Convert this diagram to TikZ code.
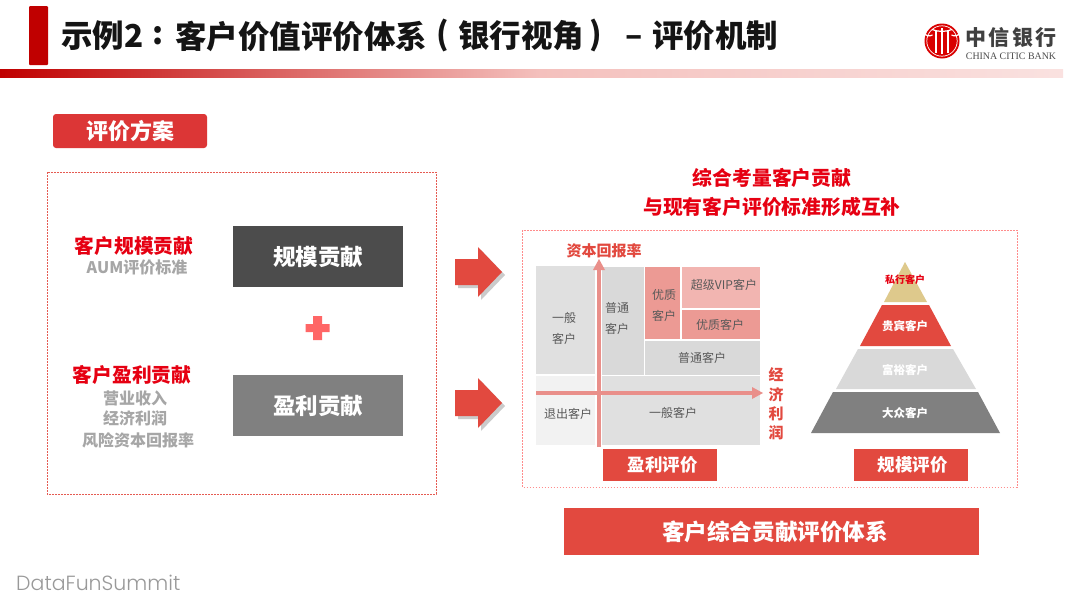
\documentclass[tikz,border=0pt]{standalone}
\usepackage{fontspec}
\setmainfont{Noto Sans CJK SC}
\newfontfamily\serifen{Liberation Serif}
\newfontfamily\wmfont{Poppins Light}
\usetikzlibrary{shadows}
\definecolor{citicred}{HTML}{C00000}
\definecolor{mainred}{HTML}{E2493F}
\definecolor{tagred}{HTML}{DC3636}
\definecolor{pure}{HTML}{E60012}
\definecolor{rosea}{HTML}{EC9A94}
\definecolor{roseb}{HTML}{F2B5B1}
\definecolor{axisred}{HTML}{E98F8A}
\definecolor{tan}{HTML}{DEC98C}
\tikzset{
  txt/.style={inner sep=0pt, font=\fontsize{#1}{#1}\selectfont},
  bold/.style={inner sep=0pt, font=\fontsize{#1}{#1}\selectfont\bfseries},
  head/.style={bold=31.5, text=black!92},
  lines/.style={inner sep=0pt, align=center, text=black!65, font=\fontsize{12}{21}\selectfont},
  cell/.style={inner sep=0pt, text=black!65, font=\fontsize{12}{12}\selectfont},
  redhead/.style={bold=#1, text=pure},
  grayline/.style={bold=16, text=black!35},
  band/.style={fill=mainred, draw=none},
  dashbox/.style={line width=0.7pt, dash pattern=on 1.6pt off 1.4pt},
  axisline/.style={line width=3.6pt, draw=axisred},
  bigarrow/.style={fill=mainred, drop shadow={shadow xshift=3pt, shadow yshift=-3pt, fill=black!40, opacity=0.5}},
}
\begin{document}
\begin{tikzpicture}[x=1pt,y=-1pt]
\useasboundingbox[fill=white] (0,0) rectangle (1080,608);
% header
\fill[citicred,rounded corners=1pt] (29,6) rectangle (48,65);
\shade[left color=citicred,right color=roseb!85!white,draw=none] (0,69) rectangle (540,77);
\shade[left color=roseb!85!white,right color=roseb!40!white,draw=none] (540,69) rectangle (1063,77);
\node[head, anchor=west] (titlea) at (61,36) {示例2};
\node[head] (titleb) at (158,36) {:};
\node[head, anchor=west] (titlec) at (175,36) {客户价值评价体系};
\node[head] (titled) at (443,35) {(};
\node[head, anchor=west] (titlee) at (458,36) {银行视角};
\node[head] (titlef) at (596,35) {)};
\node[head] (titleg) at (634,41) {–};
\node[head, anchor=west] (titleh) at (652,36) {评价机制};
% logo
\fill[red!85!black] (942,41) circle (17.5);
\draw[white,line width=0.7pt] (942,41) circle (15.2);
\draw[white,line width=1.5pt] (936,30) -- (936,53) (948,30) -- (948,53) (942,28) -- (942,54);
\draw[white,line width=1.2pt] (932,29.5) .. controls (938,32) and (946,32) .. (952,29.5);
\draw[white,line width=1.2pt] (932.5,35) arc (60:300:6.5);
\draw[white,line width=1.2pt] (951.5,35) arc (120:-120:6.5);
\node[bold=21, text=black!75] (bankcn) at (1011,38) {\hbox to 92pt{中\hfill 信\hfill 银\hfill 行}};
\node[txt=9.9, text=black!70] (banken) at (1011,56) {\serifen CHINA CITIC BANK};
% left side
\node[fill=tagred, rounded corners=3pt, minimum width=154pt, minimum height=34pt, inner sep=0pt, text=white, font=\fontsize{22}{22}\selectfont\bfseries] (plan) at (130,131) {评价方案};
\draw[dashbox,draw=mainred!90!white] (47,172) rectangle (436,494);
\node[redhead=19.7] (scalehead) at (134,246) {客户规模贡献};
\node[grayline] (scaleaum) at (137,267) {AUM评价标准};
\node[redhead=19.7] (profithead) at (132,375) {客户盈利贡献};
\node[grayline] (profita) at (135,398) {营业收入};
\node[grayline] (profitb) at (135,418) {经济利润};
\node[grayline] (profitc) at (138,440) {风险资本回报率};
\node[fill=black!70, minimum width=170pt, minimum height=61pt, text=white, bold=22.5] (scalebox) at (318,256.5) {规模贡献};
\node[fill=black!50, minimum width=170pt, minimum height=61pt, text=white, bold=22.5] (profitbox) at (318,405.5) {盈利贡献};
\fill[red!60!white] (313,316) rectangle (322,340) (305.5,324) rectangle (329.5,332);
\foreach \c in {272,403}
  \fill[bigarrow] (455,\c-13) -- (478,\c-13) -- (478,\c-25) -- (502,\c) -- (478,\c+25) -- (478,\c+13) -- (455,\c+13) -- cycle;
% right side
\node[redhead=19.8] (rhsa) at (772,178) {综合考量客户贡献};
\node[redhead=19.8] (rhsb) at (772,207) {与现有客户评价标准形成互补};
\draw[dashbox,draw=red!45!white] (522.5,230) rectangle (1017,487);
% matrix
\fill[black!12] (536,266) rectangle (595,374);
\fill[black!5] (536,376) rectangle (595,445);
\fill[black!15] (602,267) rectangle (644,375);
\fill[rosea] (645,267) rectangle (680,339);
\fill[roseb] (682,267) rectangle (760,308);
\fill[rosea] (682,310) rectangle (760,339);
\fill[black!15] (645,340.5) rectangle (760,375);
\fill[black!12] (602,376) rectangle (760,445);
\node[lines] (cella) at (564,328.5) {一般\\客户};
\node[lines] (cellb) at (617,318.5) {普通\\客户};
\node[lines] (cellc) at (664,305.5) {优质\\客户};
\node[cell] (celld) at (724,285) {超级VIP客户};
\node[cell] (celle) at (720,325) {优质客户};
\node[cell] (cellf) at (702,358) {普通客户};
\node[cell] (cellg) at (568,414) {退出客户};
\node[cell] (cellh) at (673,413) {一般客户};
\coordinate (ybot) at (599,447);
\coordinate (ytop) at (599,259);
\coordinate (xlft) at (536,393);
\coordinate (xrgt) at (763,393);
\draw[axisline] (ybot) -- (599,270);
\fill[axisred] (593,270) -- (ytop) -- (605,270) -- cycle;
\draw[axisline] (xlft) -- (752,393);
\fill[axisred] (752,387) -- (xrgt) -- (752,399) -- cycle;
\node[bold=15, text=mainred] (yname) at (604,251) {资本回报率};
\node[bold=15, text=mainred] (xa) at (776,375) {经};
\node[bold=15, text=mainred] (xb) at (776,395) {济};
\node[bold=15, text=mainred] (xc) at (776,414) {利};
\node[bold=15, text=mainred] (xd) at (776,433) {润};
\node[band, minimum width=114pt, minimum height=32pt, text=white, bold=17.5] (profitlab) at (660,465) {\hspace*{5pt}盈利评价};
% pyramid
\fill[tan] (905,262) -- (927,302) -- (884,302) -- cycle;
\fill[band] (882,305) -- (929,305) -- (951,346) -- (860,346) -- cycle;
\fill[black!15] (858,349) -- (953,349) -- (976,389) -- (836,389) -- cycle;
\fill[black!50] (833,392) -- (978,392) -- (1000,433) -- (811,433) -- cycle;
\node[bold=10, text=pure] (pyra) at (905,280) {私行客户};
\node[bold=11.5, text=white] (pyrb) at (905,326) {贵宾客户};
\node[bold=11.5, text=white] (pyrc) at (905,370) {富裕客户};
\node[bold=11.5, text=white] (pyrd) at (905,413) {大众客户};
\node[band, minimum width=114pt, minimum height=32pt, text=white, bold=17.5] (scalelab) at (911,465) {\hspace*{3pt}规模评价};
\node[band, minimum width=415pt, minimum height=47pt, text=white, bold=22.6] (total) at (771.5,531.5) {\hspace*{7pt}客户综合贡献评价体系};
% watermark
\node[inner sep=0pt, anchor=west, text=black!40, font=\fontsize{20.5}{20.5}\selectfont\wmfont] (mark) at (16,583) {DataFunSummit};
\end{tikzpicture}
\end{document}
